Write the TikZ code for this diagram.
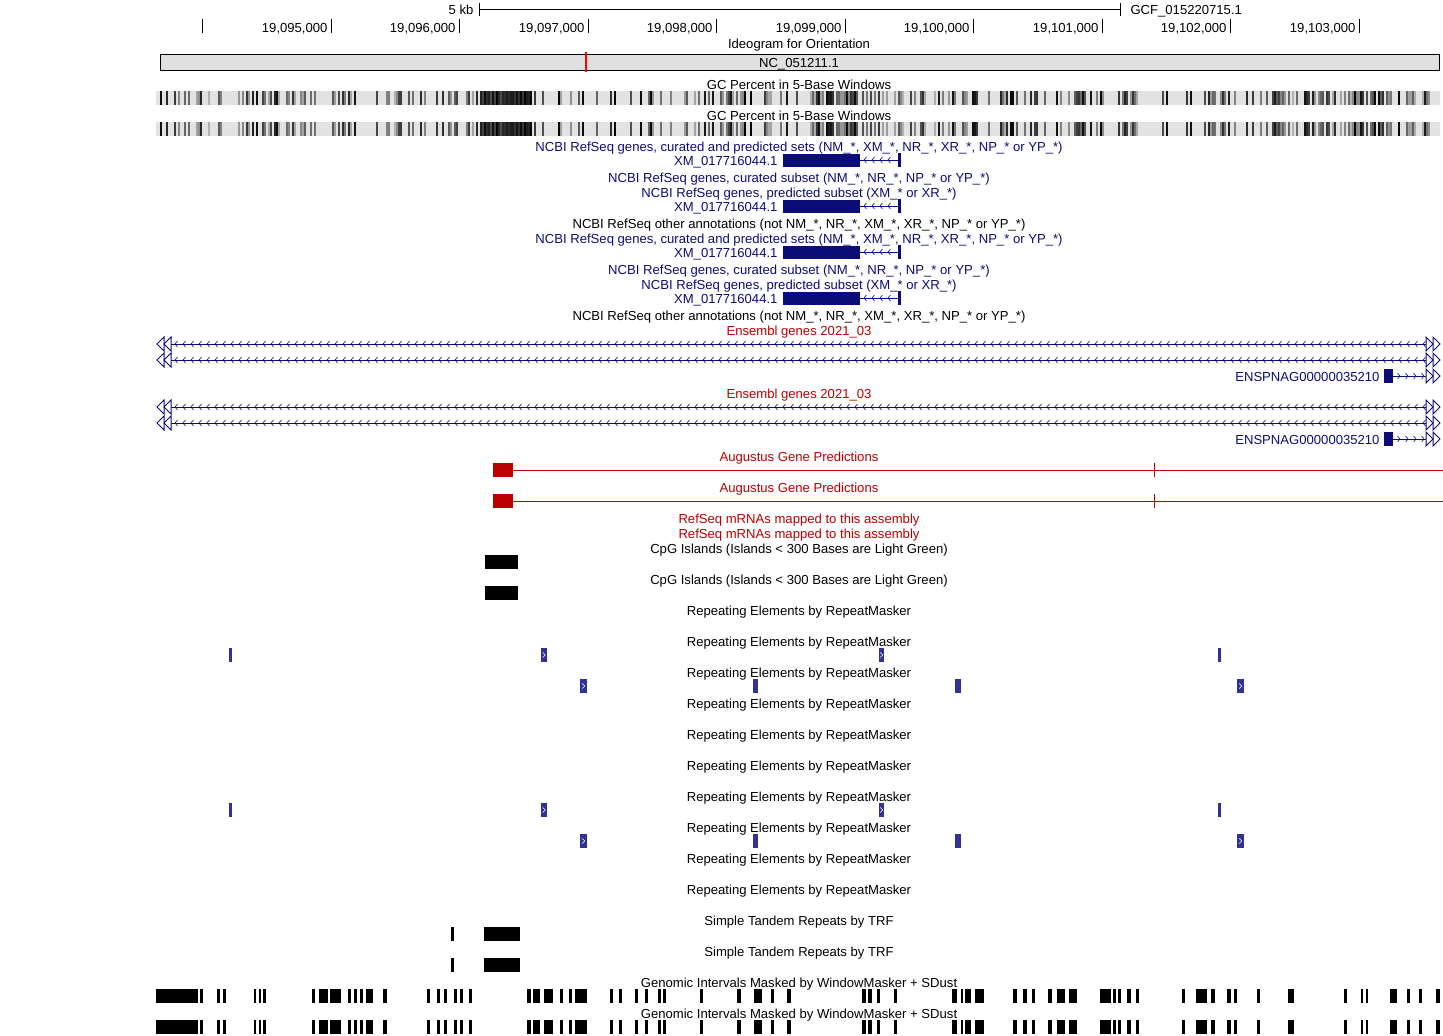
\documentclass[tikz,border=0pt]{standalone}
\usepackage{fontspec}
\setmainfont{Liberation Sans}
\definecolor{ucsc}{RGB}{12,12,120}
\definecolor{augred}{RGB}{187,0,0}
\definecolor{rmask}{RGB}{50,50,150}
\definecolor{idgray}{RGB}{224,224,224}
\definecolor{gcbg}{RGB}{226,226,226}
\newcommand\uf{\fontsize{13.1}{14}\selectfont}
\newcommand\lab[4]{\node[anchor=base, text=#3] (#1) at (799,#2+5.2) {#4};}
\newcommand\lchev[2]{\draw[ucsc, line width=.6pt] (#1+2.5,#2-3) -- (#1,#2) -- (#1+2.5,#2+3);}
\newcommand\rchev[2]{\draw[ucsc, line width=.6pt] (#1-2.5,#2-3) -- (#1,#2) -- (#1-2.5,#2+3);}
\newcommand\lefttri[1]{%
  \draw[ucsc, fill=white] (157,#1) -- (164,#1-7) -- (164,#1+7) -- cycle;
  \draw[ucsc, fill=white] (164,#1) -- (171,#1-7) -- (171,#1+7) -- cycle;}
\newcommand\righttri[1]{%
  \draw[ucsc, fill=white] (1440,#1) -- (1433,#1-7) -- (1433,#1+7) -- cycle;
  \draw[ucsc, fill=white] (1433,#1) -- (1426,#1-7) -- (1426,#1+7) -- cycle;}
\newcommand\ncbirow[2]{%
  \node[anchor=base east, text=ucsc] (#1) at (778,#2+5.2) {XM\_017716044.1};
  \fill[ucsc] (783,#2-6.5) rectangle (860,#2+6.5);
  \draw[ucsc] (860,#2) -- (898,#2);
  \foreach \c in {864,872,880,888} {\lchev{\c}{#2}}
  \fill[ucsc] (898,#2-7) rectangle (901,#2+7);}
\newcommand\ensline[1]{%
  \draw[ucsc] (171,#1) -- (1426,#1);
  \foreach \c in {175,183,...,1423} {\lchev{\c}{#1}}
  \lefttri{#1}\righttri{#1}}
\newcommand\ensrow[2]{%
  \node[anchor=base east, text=ucsc] (#1) at (1380,#2+5.2) {ENSPNAG00000035210};
  \fill[ucsc] (1384,#2-7) rectangle (1393,#2+7);
  \draw[ucsc] (1393,#2) -- (1426,#2);
  \foreach \c in {1400,1408,1416,1424} {\rchev{\c}{#2}}
  \righttri{#2}}
\newcommand\augrow[1]{%
  \fill[augred] (493,#1-7) rectangle (513,#1+7);
  \draw[augred] (513,#1) -- (1443,#1);
  \draw[augred] (1154,#1-7) -- (1154,#1+7);}
\newcommand\rblk[3]{\fill[rmask] (#1,#3-7) rectangle (#2,#3+7);}
\newcommand\rblkc[3]{\fill[rmask] (#1,#3-7) rectangle (#2,#3+7);
  \draw[white, line width=.6pt] ({(#1+#2)/2-1.3},#3-2.5) -- ({(#1+#2)/2+1.2},#3) -- ({(#1+#2)/2-1.3},#3+2.5);}
\newcommand\reprowA[1]{\rblk{229}{232}{#1}\rblkc{541}{547}{#1}\rblkc{879}{884}{#1}\rblk{1218}{1221}{#1}}
\newcommand\reprowB[1]{\rblkc{580}{587}{#1}\rblk{753}{758}{#1}\rblk{955}{961}{#1}\rblkc{1237}{1244}{#1}}
\newcommand\gcbars[1]{%
  \fill[gcbg] (156,#1) rectangle (1440,#1+14);
  \pgfmathsetseed{777}%
  \foreach \i in {0,...,641}{%
    \pgfmathsetmacro\gcx{156+2*\i}%
    \pgfmathsetmacro\gcd{((\gcx>478)&&(\gcx<532)) ? 2 : ((((\gcx>268)&&(\gcx<305))||((\gcx>708)&&(\gcx<748))||((\gcx>808)&&(\gcx<862))||((\gcx>1395)&&(\gcx<1432))||((\gcx>1260)&&(\gcx<1390))||((\gcx>1000)&&(\gcx<1015))) ? 1 : 0)}%
    \pgfmathsetmacro\gcp{(\gcd==2) ? 0.95 : ((\gcd==1) ? 0.6 : 0.33)}%
    \pgfmathsetmacro\gcr{rnd}%
    \pgfmathsetmacro\gcv{(\gcd==2) ? int(65+35*rnd) : int(30+70*rnd)}%
    \ifdim\gcr pt<\gcp pt\relax \fill[black!\gcv] (\gcx,#1) rectangle ++(2,14);\fi
  }}
\newcommand\wmbars[1]{%
  \foreach \a/\b in {156/198,200/203,217/220,223/226,254/256,259/261,263/266,312/315,319/328,330/341,348/351,354/357,360/363,366/373,383/387,427/430,437/440,444/447,454/457,460/463,469/472,527/531,533/540,544/553,560/563,569/572,575/587,610/613,619/622,635/638,645/648,658/661,663/666,700/703,737/741,754/762,771/774,787/791,862/866,868/872,877/880,894/897,952/957,961/963,965/971,975/984,1013/1017,1023/1027,1032/1035,1048/1052,1057/1065,1069/1077,1100/1111,1113/1116,1118/1121,1127/1131,1136/1139,1182/1185,1196/1207,1211/1215,1227/1231,1234/1237,1257/1260,1288/1294,1344/1347,1361/1363,1366/1368,1390/1397,1407/1410,1419/1422,1436/1440}
  {\fill[black] (\a,#1) rectangle (\b,#1+14);}}
\begin{document}
\begin{tikzpicture}[x=1pt,y=-1pt, every node/.style={inner sep=0pt, font=\uf}, line width=1pt]
\useasboundingbox[fill=white] (0,0) rectangle (1443,1036);
% scale bar
\node[anchor=base east] (kb) at (474,14) {5 kb};
\coordinate (sb1) at (479,9);
\coordinate (sb2) at (1120,9);
\draw (sb1) -- (sb2);
\draw (479,3) -- (479,16);
\draw (1120,3) -- (1120,16);
\node[anchor=base west] (gcf) at (1130,14) {GCF\_015220715.1};
% ruler
\draw (202,19) -- (202,33);
\foreach \t/\l [count=\k] in {331/{19,095,000},459/{19,096,000},588/{19,097,000},716/{19,098,000},845/{19,099,000},973/{19,100,000},1102/{19,101,000},1230/{19,102,000},1359/{19,103,000}}{
  \draw (\t,19) -- (\t,33);
  \node[anchor=base east] (r\k) at (\t-3,32.2) {\l};
}
% ideogram
\lab{ideo}{43}{black}{Ideogram for Orientation}
\draw[fill=idgray] (160,54) rectangle (1439,70);
\draw[red, line width=2pt] (586,52) -- (586,72);
\lab{chr}{62}{black}{NC\_051211.1}
% GC percent
\lab{gc1}{84}{black}{GC Percent in 5-Base Windows}
\gcbars{91}
\lab{gc2}{115}{black}{GC Percent in 5-Base Windows}
\gcbars{122}
% NCBI RefSeq
\lab{n1}{146}{ucsc}{NCBI RefSeq genes, curated and predicted sets (NM\_*, XM\_*, NR\_*, XR\_*, NP\_* or YP\_*)}
\ncbirow{g1}{160}
\lab{n2}{177}{ucsc}{NCBI RefSeq genes, curated subset (NM\_*, NR\_*, NP\_* or YP\_*)}
\lab{n3}{192}{ucsc}{NCBI RefSeq genes, predicted subset (XM\_* or XR\_*)}
\ncbirow{g2}{206}
\lab{n4}{223}{black}{NCBI RefSeq other annotations (not NM\_*, NR\_*, XM\_*, XR\_*, NP\_* or YP\_*)}
\lab{n5}{238}{ucsc}{NCBI RefSeq genes, curated and predicted sets (NM\_*, XM\_*, NR\_*, XR\_*, NP\_* or YP\_*)}
\ncbirow{g3}{252}
\lab{n6}{269}{ucsc}{NCBI RefSeq genes, curated subset (NM\_*, NR\_*, NP\_* or YP\_*)}
\lab{n7}{284}{ucsc}{NCBI RefSeq genes, predicted subset (XM\_* or XR\_*)}
\ncbirow{g4}{298}
\lab{n8}{315}{black}{NCBI RefSeq other annotations (not NM\_*, NR\_*, XM\_*, XR\_*, NP\_* or YP\_*)}
% Ensembl
\lab{e1}{330}{augred}{Ensembl genes 2021\_03}
\ensline{344}
\ensline{360}
\ensrow{es1}{376}
\lab{e2}{393}{augred}{Ensembl genes 2021\_03}
\ensline{407}
\ensline{423}
\ensrow{es2}{439}
% Augustus
\lab{a1}{456}{augred}{Augustus Gene Predictions}
\augrow{470}
\lab{a2}{487}{augred}{Augustus Gene Predictions}
\augrow{501}
% RefSeq mRNAs
\lab{m1}{518}{augred}{RefSeq mRNAs mapped to this assembly}
\lab{m2}{533}{augred}{RefSeq mRNAs mapped to this assembly}
% CpG
\lab{c1}{548}{black}{CpG Islands (Islands < 300 Bases are Light Green)}
\fill[black] (485,555) rectangle (518,569);
\lab{c2}{579}{black}{CpG Islands (Islands < 300 Bases are Light Green)}
\fill[black] (485,586) rectangle (518,600);
% RepeatMasker
\foreach \yy [count=\k] in {610,641,672,703,734,765,796,827,858,889}{
  \node[anchor=base] (rm\k) at (799,\yy+5.2) {Repeating Elements by RepeatMasker};
}
\reprowA{655}
\reprowB{686}
\reprowA{810}
\reprowB{841}
% TRF
\lab{s1}{920}{black}{Simple Tandem Repeats by TRF}
\fill[black] (451,927) rectangle (454,941);
\fill[black] (484,927) rectangle (520,941);
\lab{s2}{951}{black}{Simple Tandem Repeats by TRF}
\fill[black] (451,958) rectangle (454,972);
\fill[black] (484,958) rectangle (520,972);
% WindowMasker
\lab{w1}{982}{black}{Genomic Intervals Masked by WindowMasker + SDust}
\wmbars{989}
\lab{w2}{1013}{black}{Genomic Intervals Masked by WindowMasker + SDust}
\wmbars{1020}
\end{tikzpicture}
\end{document}
